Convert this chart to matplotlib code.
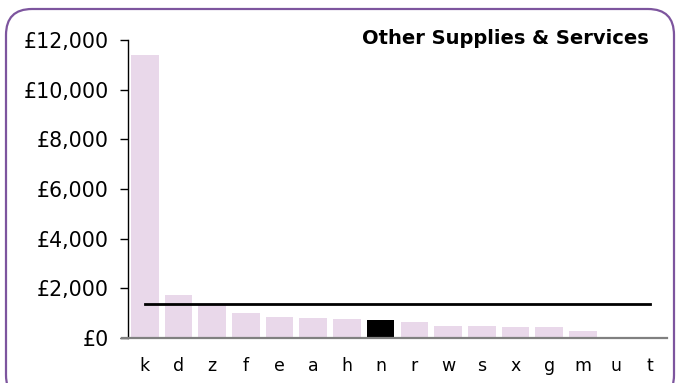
"""Spend per provider: Other Supplies & Services."""

import matplotlib.pyplot as plt
from matplotlib.patches import FancyBboxPatch
from matplotlib.ticker import FuncFormatter

CATEGORIES = ["k", "d", "z", "f", "e", "a", "h", "n", "r", "w", "s", "x", "g", "m", "u", "t"]
SPEND = [11400, 1720, 1320, 1000, 835, 795, 755, 715, 635, 470, 470, 430, 430, 270, 0, 0]
HIGHLIGHT = "n"
AVERAGE = 1340
YTICKS = [0, 2000, 4000, 6000, 8000, 10000, 12000]
TITLE = "Other Supplies & Services"

BAR_COLOR = "#e9d8ea"
HIGHLIGHT_COLOR = "#000000"
BORDER_COLOR = "#7d559e"

plt.rcParams["font.family"] = ["Verdana", "DejaVu Sans"]

fig = plt.figure(figsize=(6.76, 3.83), dpi=100)

# rounded frame round the whole chart, drawn in pixel units
bg = fig.add_axes([0, 0, 1, 1], zorder=-1)
bg.set_xlim(0, 676)
bg.set_ylim(383, 0)
bg.axis("off")
bg.add_patch(FancyBboxPatch((6, 9), 668, 392, boxstyle="round,pad=0,rounding_size=26",
                            facecolor="white", edgecolor=BORDER_COLOR, linewidth=1.6))

ax = fig.add_axes([128 / 676, 1 - 337.7 / 383, (667 - 128) / 676, 297.4 / 383])
ax.patch.set_alpha(0)

x = list(range(len(CATEGORIES)))
colors = [HIGHLIGHT_COLOR if c == HIGHLIGHT else BAR_COLOR for c in CATEGORIES]
ax.bar(x, SPEND, width=0.82, color=colors, zorder=2)
ax.plot([x[0], x[-1]], [AVERAGE, AVERAGE], color="black", linewidth=2, zorder=3)

ax.set_xlim(-0.5, len(CATEGORIES) - 0.5)
ax.set_ylim(0, 12000)
ax.set_yticks(YTICKS)
ax.yaxis.set_major_formatter(FuncFormatter(lambda v, _: f"£{v:,.0f}"))
ax.set_xticks(x)
ax.set_xticklabels(CATEGORIES)

for side in ("top", "right"):
    ax.spines[side].set_visible(False)
ax.spines["left"].set_color("black")
ax.spines["left"].set_linewidth(1)
ax.spines["bottom"].set_color("#808080")
ax.spines["bottom"].set_linewidth(1.6)
ax.spines["bottom"].set_bounds(-0.68, len(CATEGORIES) - 0.5)
ax.spines["bottom"].set_zorder(4)

ax.tick_params(axis="y", length=6, width=1, color="black", labelsize=14.8, pad=8)
ax.tick_params(axis="x", length=0, labelsize=12.5, pad=14)

fig.text(649 / 676, 1 - 38 / 383, TITLE, ha="right", va="center",
         fontsize=14, fontweight="bold")

fig.savefig("out.png", dpi=100)
